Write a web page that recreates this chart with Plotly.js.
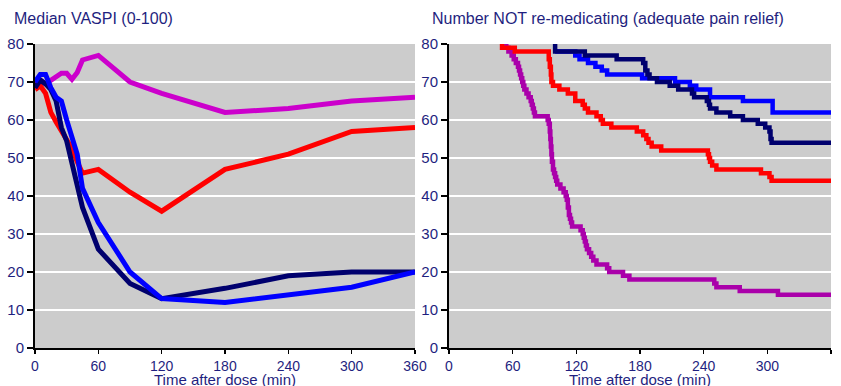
<!DOCTYPE html>
<html>
<head>
<meta charset="utf-8">
<script src="https://cdn.plot.ly/plotly-3.0.1.min.js"></script>
<style>html,body{margin:0;padding:0;background:#fff;}#chart{width:841px;height:386px;}</style>
</head>
<body>
<div id="chart"></div>
<script>
// Left panel: median VASPI over time
const vaspiTimes = [0,5,10,15,20,25,30,35,40,45,60,90,120,180,240,300,360];
const vaspiMagenta = [69,70.5,69.5,70.5,71.5,72.3,72.3,70.7,72.5,75.8,77,70,67,62,63,65,66];
const vaspiRed = [68,69,67,62,59.5,57,55,52.5,49,46,47,41,36,47,51,57,58];
const vaspiBlue = [70,72,72,68.5,66,65,60,55,51,42,33,20,13,12,14,16,20];
const vaspiNavy = [68.5,70.5,69.5,68,65,58,54.5,49,43,37,26,17,13,15.7,19,20,20];

// Right panel: number not re-medicating (step curves)
const purpleT = [52,54,56,59,61,63,65,66,67,68,69,70,71,73,75,77,78,79,80,81,93,94,95,95.5,96,96.5,97,98,99,100,101,102,105,108,110,111,112,113,114,115,116,124,126,127,128,129,130,132,134,136,139,149,151,164,170,250,252,274,310,360];
const purpleN = [80,79,78,77,76,75,74,73,72,71,70,69,68,67,66,65,64,63,62,61,60,59,57,55,53,51,49,47,46,45,44,43,42,41,40,39,37,35,34,33,32,31,30,29,28,27,26,25,24,23,22,21,20,19,18,17,16,15,14,14];
const redT = [48,50,62,94,95,96,96.5,98,104,112,119,126,128,131,139,143,145,153,177,183,186,188,191,200,244,245,246,248,252,294,302,304,360];
const redN = [80,79,78,76,74,72,70,69,68,67,65,64,63,62,61,60,59,58,57,56,55,54,53,52,51,50,49,48,47,46,45,44,44];
const blueT = [100,119,123,131,138,144,149,182,213,227,233,246,277,305,360];
const blueN = [78,77,76,75,74,73,72,71,70,69,68,66,65,62,62];
const navyT = [98,100,128,158,183,185,187,189,196,208,216,229,231,243,245,246,252,265,277,291,298,302,303,304,360];
const navyN = [80,78,77,76,75,73,72,71,70,69,68,67,66,65,64,63,62,61,60,59,58,57,55,54,54];

const xTicks = [0,60,120,180,240,300,360];
const yTicks = [0,10,20,30,40,50,60,70,80];
const leftTitle = 'Median VASPI (0-100)';
const rightTitle = 'Number NOT re-medicating (adequate pain relief)';
const xTitle = 'Time after dose (min)';

const textColor = '#1f1f80';
const fontFam = '"Liberation Sans", Arial, Helvetica, sans-serif';

function lineTrace(x, y, color, xa, ya, shape, w) {
  return {x: x, y: y, type: 'scatter', mode: 'lines', xaxis: xa, yaxis: ya,
    line: {color: color, width: w, shape: shape}, hoverinfo: 'skip', showlegend: false};
}

const data = [
  lineTrace(vaspiTimes, vaspiMagenta, '#cc00cc', 'x', 'y', 'linear', 5),
  lineTrace(vaspiTimes, vaspiRed, '#ff0000', 'x', 'y', 'linear', 5),
  lineTrace(vaspiTimes, vaspiNavy, '#00006e', 'x', 'y', 'linear', 5),
  lineTrace(vaspiTimes, vaspiBlue, '#0000ff', 'x', 'y', 'linear', 5),
  lineTrace(purpleT, purpleN, '#aa00aa', 'x2', 'y2', 'hv', 4.5),
  lineTrace(redT, redN, '#ff0000', 'x2', 'y2', 'hv', 4.5),
  lineTrace(blueT, blueN, '#0000ff', 'x2', 'y2', 'hv', 4.5),
  lineTrace(navyT, navyN, '#00006e', 'x2', 'y2', 'hv', 4.5)
];

function xAxis(domain, anchor) {
  return {domain: domain, anchor: anchor, range: [0, 360], tickvals: xTicks, ticktext: xTicks.map(String),
    showgrid: false, zeroline: false, showline: true, linecolor: '#000', linewidth: 2,
    ticks: 'outside', ticklen: 4, tickwidth: 1.5, tickcolor: '#000',
    tickfont: {family: fontFam, size: 14, color: textColor}};
}
function yAxis(anchor) {
  return {domain: [0, 1], anchor: anchor, range: [0, 80], tickvals: yTicks, ticktext: yTicks.map(String),
    showgrid: true, gridcolor: '#ffffff', gridwidth: 2.5, zeroline: false,
    showline: true, linecolor: '#000', linewidth: 2,
    ticks: 'outside', ticklen: 6, tickwidth: 1.5, tickcolor: '#000',
    tickfont: {family: fontFam, size: 15, color: textColor}};
}

const layout = {
  width: 841, height: 386,
  margin: {l: 35, r: 10, t: 44, b: 38, pad: 0},
  paper_bgcolor: '#ffffff',
  plot_bgcolor: '#cccccc',
  showlegend: false,
  xaxis: xAxis([0, 0.4774], 'y'),
  yaxis: yAxis('x'),
  xaxis2: xAxis([0.5201, 1], 'y2'),
  yaxis2: yAxis('x2'),
  shapes: [
    {type: 'rect', xref: 'x domain', yref: 'y domain', x0: 0, x1: 1, y0: 0, y1: 1, fillcolor: '#cccccc', line: {width: 0}, layer: 'below'},
    {type: 'rect', xref: 'x2 domain', yref: 'y2 domain', x0: 0, x1: 1, y0: 0, y1: 1, fillcolor: '#cccccc', line: {width: 0}, layer: 'below'}
  ],
  annotations: [
    {text: leftTitle, xref: 'paper', yref: 'paper', x: -0.029, y: 1.085, xanchor: 'left', yanchor: 'middle', showarrow: false,
     font: {family: fontFam, size: 16, color: textColor}},
    {text: rightTitle, xref: 'paper', yref: 'paper', x: 0.4962, y: 1.085, xanchor: 'left', yanchor: 'middle', showarrow: false,
     font: {family: fontFam, size: 16, color: textColor}},
    {text: xTitle, xref: 'x domain', yref: 'paper', x: 0.5, y: -0.104, xanchor: 'center', yanchor: 'middle', showarrow: false,
     font: {family: fontFam, size: 15, color: textColor}},
    {text: xTitle, xref: 'x2 domain', yref: 'paper', x: 0.5, y: -0.104, xanchor: 'center', yanchor: 'middle', showarrow: false,
     font: {family: fontFam, size: 15, color: textColor}}
  ]
};

Plotly.newPlot('chart', data, layout, {displayModeBar: false, staticPlot: true});
</script>
</body>
</html>
